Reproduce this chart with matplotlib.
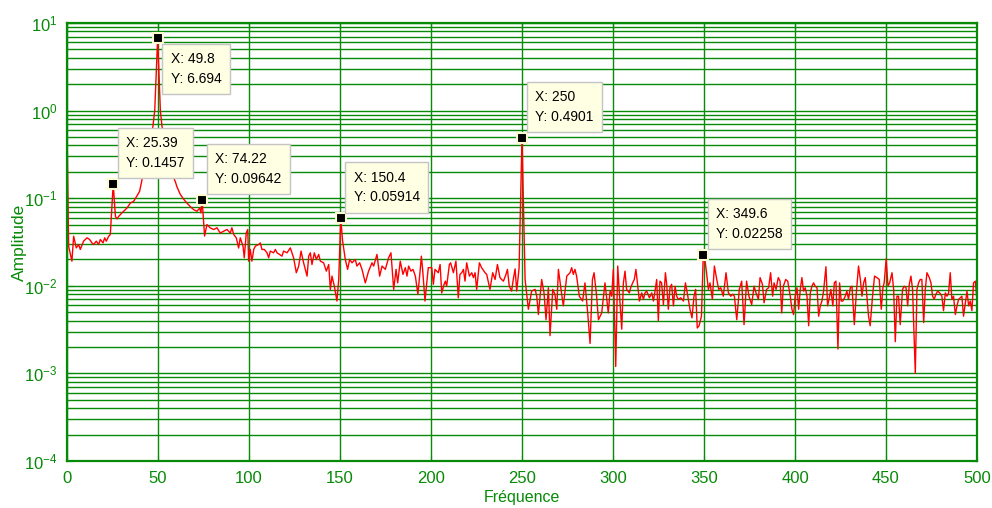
import matplotlib
matplotlib.use('Agg')
import matplotlib.pyplot as plt
from matplotlib import font_manager

# spectrum read point by point (Hz, amplitude)
freq_hz = [
    0.0, 0.9, 2.7, 3.65, 5.1, 6.4, 7.3, 9.1, 11.0, 12.4,
    13.7, 14.6, 16.1, 17.4, 18.3, 19.8, 20.7, 21.6, 22.9, 23.8,
    25.39, 26.6, 27.5, 28.4, 30.2, 32.0, 32.9, 34.8, 36.6, 38.3,
    39.9, 41.2, 42.5, 44.0, 45.8, 47.2, 48.2, 49.8, 51.3, 52.2,
    54.0, 55.8, 57.7, 59.5, 60.4, 62.3, 64.0, 65.9, 67.8, 69.6,
    71.4, 72.9, 73.6, 74.22, 75.6, 76.9, 78.7, 80.6, 82.4, 84.2,
    86.1, 87.9, 89.7, 90.6, 91.6, 93.0, 94.3, 95.2, 96.7, 97.4,
    98.5, 99.3, 99.8, 100.7, 101.6, 102.6, 103.5, 105.3, 106.2, 107.1,
    108.4, 109.9, 110.8, 111.7, 113.5, 114.5, 115.4, 116.8, 118.1, 119.0,
    120.9, 122.7, 124.5, 126.0, 127.3, 128.6, 130.0, 131.9, 132.8, 133.7,
    134.6, 135.9, 137.0, 138.3, 139.2, 141.0, 142.5, 143.8, 144.7, 145.6,
    146.9, 148.3, 149.3, 150.4, 151.4, 152.9, 154.2, 155.3, 156.6, 158.4,
    159.3, 160.8, 162.1, 163.9, 165.7, 167.6, 168.5, 170.3, 171.8, 173.1,
    174.9, 176.7, 178.0, 179.5, 180.8, 181.7, 183.1, 184.6, 185.9, 186.8,
    187.7, 189.0, 190.1, 191.4, 192.8, 194.1, 194.7, 195.4, 196.7, 198.5,
    200.4, 201.3, 202.2, 204.0, 205.0, 205.9, 207.2, 207.9, 208.6, 210.1,
    210.8, 212.3, 213.7, 215.0, 215.9, 216.9, 217.8, 218.7, 219.6, 221.1,
    222.4, 223.3, 224.2, 225.1, 226.6, 227.8, 229.7, 230.6, 232.4, 233.9,
    235.2, 236.5, 237.9, 238.8, 239.8, 241.2, 242.0, 243.0, 244.3, 245.2,
    246.2, 247.1, 248.4, 250.0, 251.7, 253.5, 255.3, 257.2, 258.1, 259.0,
    260.8, 262.1, 263.2, 264.5, 265.4, 266.9, 268.1, 269.1, 270.0, 271.8,
    272.7, 274.6, 276.4, 277.3, 278.2, 279.1, 280.0, 281.5, 283.3, 284.6,
    286.1, 287.4, 288.7, 289.6, 291.0, 292.0, 293.8, 295.6, 297.4, 298.4,
    299.3, 300.2, 301.5, 302.6, 303.5, 304.8, 305.7, 306.6, 307.5, 309.0,
    309.7, 310.8, 311.7, 312.6, 313.6, 314.5, 315.8, 316.7, 317.6, 318.5,
    320.0, 321.3, 322.2, 323.1, 324.0, 324.9, 325.8, 326.7, 327.7, 328.8,
    329.5, 330.4, 331.3, 332.2, 333.2, 334.1, 335.0, 335.9, 337.2, 338.7,
    339.8, 340.8, 342.3, 343.4, 344.5, 345.4, 346.3, 347.3, 348.6, 349.6,
    350.6, 351.4, 352.4, 353.3, 354.6, 355.7, 357.0, 358.1, 359.2, 360.6,
    362.1, 363.4, 364.7, 365.8, 366.7, 368.0, 369.4, 370.7, 372.0, 373.4,
    374.7, 376.2, 377.5, 378.6, 379.9, 380.8, 382.1, 383.0, 384.4, 385.5,
    386.6, 387.7, 388.5, 389.6, 390.8, 391.8, 392.7, 393.6, 394.9, 396.0,
    397.4, 398.3, 399.2, 400.1, 401.1, 402.0, 402.9, 403.8, 404.7, 405.6,
    406.6, 407.5, 408.4, 409.3, 410.2, 411.1, 412.1, 413.0, 413.9, 414.8,
    415.7, 417.0, 417.9, 419.0, 419.7, 420.8, 421.6, 422.5, 423.6, 424.5,
    425.4, 426.3, 427.6, 428.5, 429.4, 430.4, 431.3, 432.6, 433.7, 434.9,
    435.9, 436.8, 437.7, 438.6, 439.5, 440.4, 441.3, 442.6, 443.7, 445.0,
    446.3, 447.4, 448.3, 449.0, 450.1, 451.1, 452.0, 453.3, 454.2, 455.1,
    456.0, 456.9, 457.8, 459.1, 460.0, 461.0, 461.9, 462.8, 463.7, 464.6,
    466.1, 467.0, 467.9, 468.8, 469.7, 470.7, 471.6, 472.5, 473.8, 474.7,
    475.6, 476.5, 477.4, 478.4, 479.5, 480.7, 481.6, 482.6, 483.5, 484.4,
    485.3, 486.2, 487.1, 488.1, 489.0, 489.9, 490.8, 491.7, 492.6, 493.6,
    494.5, 495.4, 496.3, 497.2, 498.1, 499.1, 500.0,
]
amplitude = [
    0.62, 0.0283, 0.0191, 0.0368, 0.0271, 0.0296, 0.026, 0.0323, 0.0353, 0.0338,
    0.0309, 0.0296, 0.0323, 0.0296, 0.0338, 0.0309, 0.0353, 0.0323, 0.0368, 0.0385,
    0.1457, 0.062, 0.058, 0.062, 0.068, 0.074, 0.077, 0.088, 0.092, 0.105,
    0.12, 0.162, 0.233, 0.325, 0.46, 0.66, 1.0, 6.694, 1.0, 0.66,
    0.46, 0.3, 0.19, 0.155, 0.135, 0.11, 0.098, 0.088, 0.08, 0.074,
    0.071, 0.077, 0.068, 0.09642, 0.037, 0.05, 0.0458, 0.0439, 0.046, 0.040,
    0.042, 0.044, 0.040, 0.046, 0.0385, 0.0353, 0.027, 0.0353, 0.0284, 0.0209,
    0.0402, 0.0439, 0.0191, 0.026, 0.0191, 0.026, 0.0284, 0.0296, 0.0309, 0.026,
    0.026, 0.0238, 0.0209, 0.0249, 0.0238, 0.026, 0.0238, 0.0228, 0.0218, 0.0249,
    0.0238, 0.0271, 0.0209, 0.0141, 0.0168, 0.0249, 0.0183, 0.0129, 0.0218, 0.0238,
    0.0175, 0.0238, 0.02, 0.0228, 0.0191, 0.0183, 0.0147, 0.0175, 0.0091, 0.0129,
    0.0099, 0.0067, 0.0118, 0.05914, 0.033, 0.02, 0.0154, 0.02, 0.0183, 0.02,
    0.0168, 0.0183, 0.0154, 0.0108, 0.0147, 0.0183, 0.0168, 0.0228, 0.0129, 0.0168,
    0.0154, 0.0209, 0.0238, 0.0091, 0.0154, 0.0108, 0.0191, 0.0135, 0.0161, 0.0129,
    0.0168, 0.0147, 0.0154, 0.0129, 0.008, 0.0154, 0.0218, 0.0154, 0.0067, 0.0161,
    0.0161, 0.0104, 0.0154, 0.0141, 0.0175, 0.0083, 0.0104, 0.0113, 0.0099, 0.0175,
    0.0183, 0.0141, 0.0191, 0.0073, 0.0135, 0.0141, 0.0154, 0.0113, 0.0183, 0.0129,
    0.0141, 0.0124, 0.0141, 0.0091, 0.0183, 0.0161, 0.0141, 0.0135, 0.0091, 0.0141,
    0.0118, 0.0175, 0.0124, 0.0118, 0.0113, 0.0135, 0.0154, 0.0099, 0.0087, 0.0118,
    0.0156, 0.0087, 0.016, 0.4901, 0.0118, 0.0054, 0.0087, 0.0091, 0.0076, 0.0047,
    0.0118, 0.0083, 0.0041, 0.0095, 0.0027, 0.0091, 0.008, 0.0054, 0.0154, 0.008,
    0.0059, 0.0129, 0.0141, 0.0161, 0.0135, 0.0154, 0.0129, 0.0076, 0.0067, 0.0108,
    0.0049, 0.0022, 0.0118, 0.0141, 0.0076, 0.0041, 0.0049, 0.0108, 0.0049, 0.0087,
    0.0076, 0.0154, 0.0012, 0.0168, 0.0083, 0.0032, 0.0108, 0.0147, 0.0091, 0.0083,
    0.0095, 0.0108, 0.0118, 0.0154, 0.0099, 0.0067, 0.0083, 0.007, 0.0083, 0.0087,
    0.0073, 0.0083, 0.0067, 0.0087, 0.0118, 0.004, 0.0113, 0.0108, 0.0061, 0.0141,
    0.0104, 0.0054, 0.0095, 0.0104, 0.0059, 0.0099, 0.0076, 0.007, 0.0073, 0.0067,
    0.0108, 0.0083, 0.0054, 0.0043, 0.0076, 0.0091, 0.0033, 0.0035, 0.0045, 0.02258,
    0.0191, 0.0141, 0.0091, 0.0108, 0.007, 0.0168, 0.0118, 0.0091, 0.0095, 0.0076,
    0.0141, 0.0083, 0.0076, 0.008, 0.0076, 0.0041, 0.0091, 0.0113, 0.0036, 0.0113,
    0.0076, 0.0061, 0.0099, 0.0083, 0.007, 0.0124, 0.0104, 0.0064, 0.0091, 0.0095,
    0.0141, 0.0076, 0.0108, 0.0091, 0.0124, 0.0113, 0.0049, 0.0099, 0.0118, 0.0113,
    0.0076, 0.0054, 0.0047, 0.0076, 0.0095, 0.0054, 0.0091, 0.0124, 0.0087, 0.0095,
    0.0076, 0.0035, 0.0083, 0.0099, 0.0108, 0.0099, 0.0095, 0.0045, 0.0059, 0.0067,
    0.0087, 0.0165, 0.0059, 0.0076, 0.0091, 0.0059, 0.0108, 0.0113, 0.0019, 0.0108,
    0.0067, 0.0067, 0.0076, 0.0087, 0.007, 0.0095, 0.0099, 0.0036, 0.0083, 0.0168,
    0.0118, 0.0076, 0.0108, 0.0124, 0.0076, 0.0045, 0.0035, 0.0076, 0.0129, 0.0124,
    0.0118, 0.0054, 0.0095, 0.0108, 0.0203, 0.0099, 0.0108, 0.0141, 0.0091, 0.0023,
    0.0076, 0.0076, 0.0036, 0.0091, 0.0099, 0.0095, 0.0059, 0.0104, 0.0129, 0.0091,
    0.0010, 0.0091, 0.0108, 0.0118, 0.0118, 0.0038, 0.0091, 0.0141, 0.0124, 0.0108,
    0.0076, 0.007, 0.008, 0.0087, 0.0083, 0.0076, 0.0052, 0.0083, 0.0076, 0.0083,
    0.0141, 0.007, 0.0076, 0.0047, 0.0059, 0.007, 0.0073, 0.0076, 0.0045, 0.0064,
    0.0087, 0.0059, 0.0067, 0.0052, 0.0108, 0.0113, 0.0067,
]

# data tips
tip_x = [49.8, 25.39, 74.22, 150.4, 250, 349.6]
tip_y = [6.694, 0.1457, 0.09642, 0.05914, 0.4901, 0.02258]
tip_below = [True, False, False, False, False, False]

green = '#078a07'

names = {f.name for f in font_manager.fontManager.ttflist}
font = 'Liberation Sans Narrow' if 'Liberation Sans Narrow' in names else 'Liberation Sans'
plt.rcParams['font.family'] = [font, 'DejaVu Sans']
plt.rcParams['mathtext.fontset'] = 'custom'
plt.rcParams['mathtext.rm'] = font
plt.rcParams['mathtext.it'] = font

fig = plt.figure(figsize=(9.92, 5.08), dpi=100)
ax = fig.add_axes([67 / 992, 47 / 508, 910 / 992, 438 / 508])

ax.semilogy(freq_hz, amplitude, color='red', lw=1.0, zorder=2)
ax.plot(tip_x, tip_y, 's', ms=7.5, mfc='black', mec='#fdfbd2', mew=1.5,
        zorder=5, clip_on=False)

for x, y, below in zip(tip_x, tip_y, tip_below):
    label = f'X: {x:g}\nY: {y:.4g}'
    dy = -14 if below else 14
    ax.annotate(label, xy=(x, y), xytext=(13, dy), textcoords='offset pixels',
                ha='left', va='top' if below else 'bottom',
                fontsize=10, linespacing=1.5, color='black', zorder=6,
                bbox=dict(boxstyle='square,pad=0.6', fc='#ffffe4',
                          ec='#c4c4c4', lw=1))

ax.set_xlim(0, 500)
ax.set_ylim(1e-4, 10)
ax.set_xticks(range(0, 501, 50))

ax.grid(True, which='major', axis='both', color=green, lw=1.0)
ax.grid(True, which='minor', axis='y', color=green, lw=1.0)
ax.set_axisbelow(True)

for s in ax.spines.values():
    s.set_color(green)
    s.set_linewidth(1.6)

ax.tick_params(which='both', direction='in', colors=green, labelsize=12,
               top=True, right=True, pad=7)
ax.tick_params(which='major', length=4)
ax.tick_params(which='minor', length=2)

ax.set_xlabel('Fréquence', color=green, fontsize=11.5, labelpad=3)
ax.set_ylabel('Amplitude', color=green, fontsize=12.5)
ax.yaxis.set_label_coords(-0.044, 0.5)

fig.savefig('out.png', dpi=100, facecolor='white')
